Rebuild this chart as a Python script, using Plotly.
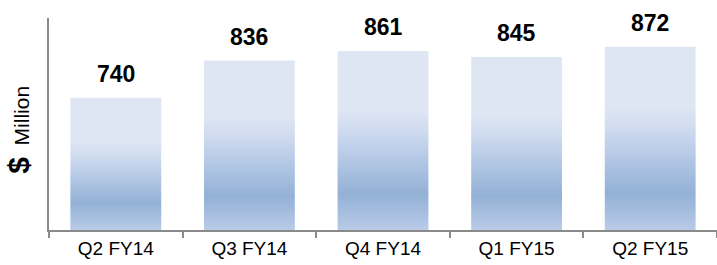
import plotly.graph_objects as go

categories = ["Q2 FY14", "Q3 FY14", "Q4 FY14", "Q1 FY15", "Q2 FY15"]
values = [740, 836, 861, 845, 872]
value_labels = ["740", "836", "861", "845", "872"]

y_min, y_max = 398, 946
bar_half = 0.34
font_family = "Arial, 'Liberation Sans', sans-serif"

gradient = [
    [0.0, "#b9cbe8"],
    [0.2, "#93b1d6"],
    [0.42, "#b8cbe7"],
    [0.56, "#d0dcf0"],
    [0.67, "#dfe6f3"],
    [1.0, "#dfe6f3"],
]

fig = go.Figure()
for i, (cat, v) in enumerate(zip(categories, values)):
    fig.add_trace(go.Scatter(
        x=[i - bar_half, i + bar_half, i + bar_half, i - bar_half, i - bar_half],
        y=[y_min, y_min, v, v, y_min],
        mode="lines",
        line=dict(width=0),
        fill="toself",
        fillgradient=dict(type="vertical", colorscale=gradient),
        name=cat,
        hoverinfo="text",
        text=f"{cat}: {v}",
        showlegend=False,
    ))

for i, (v, lbl) in enumerate(zip(values, value_labels)):
    fig.add_annotation(
        x=i, y=v, text=f"<b>{lbl}</b>", showarrow=False,
        yanchor="bottom", yshift=9,
        font=dict(family=font_family, size=23, color="#000000"),
    )

fig.update_layout(
    width=717, height=265,
    margin=dict(l=49, r=0, t=18, b=35),
    paper_bgcolor="white", plot_bgcolor="white",
    font=dict(family=font_family, color="#000000"),
    xaxis=dict(
        range=[-0.5, 4.5], automargin=False,
        tickmode="array", tickvals=list(range(len(categories))), ticktext=categories,
        ticks="", showgrid=False, zeroline=False,
        showline=True, linecolor="#8a8a8a", linewidth=2,
        tickfont=dict(size=19, family=font_family, color="#000000"),
        minor=dict(tickmode="array", tickvals=[k - 0.5 for k in range(len(categories) + 1)],
                   ticks="outside", ticklen=6, tickcolor="#8a8a8a", tickwidth=2, showgrid=False),
        fixedrange=True,
    ),
    yaxis=dict(
        range=[y_min, y_max], automargin=False,
        showticklabels=False, ticks="", showgrid=False, zeroline=False,
        showline=True, linecolor="#8a8a8a", linewidth=2,
        title=dict(text="<b><span style='font-size:30px'>$</span></b>&#160;&#160;Million&#160;&#160;",
                   font=dict(size=21, family=font_family, color="#000000"), standoff=12),
        fixedrange=True,
    ),
)

fig.write_html(
    "out.html",
    config={"displayModeBar": False},
    post_script="document.body.style.margin='0';document.body.style.overflow='hidden';",
)
